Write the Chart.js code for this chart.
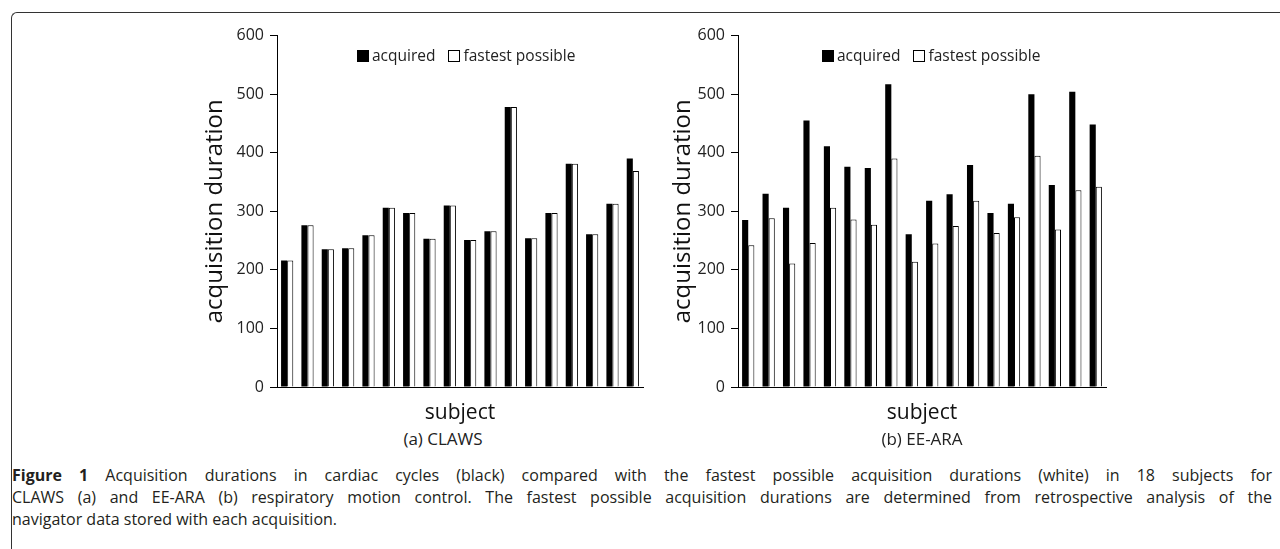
<!DOCTYPE html>
<html>
<head>
<meta charset="utf-8">
<script src="https://cdn.jsdelivr.net/npm/chart.js@4"></script>
<style>
  body { margin: 0; background: #fff; width: 1280px; height: 549px; overflow: hidden; position: relative; font-family: "Open Sans", sans-serif; color: #222; }
  .frame { position: absolute; left: 11px; top: 12px; width: 1300px; height: 600px; border-top: 1.5px solid #333; border-left: 1.5px solid #333; border-top-left-radius: 6px; }
  .wrap { position: absolute; }
  .legend { position: absolute; font-size: 15.5px; line-height: 15px; white-space: nowrap; }
  .legend span.box { display: inline-block; width: 10px; height: 10px; border: 1px solid #000; vertical-align: -1px; margin-right: 3px; }
  .legend span.gap { display: inline-block; width: 13px; }
  .sub { position: absolute; font-size: 17px; text-align: center; width: 300px; }
  .caption { position: absolute; left: 12px; top: 464px; width: 1260px; font-size: 16px; line-height: 22px; color: #231f20; }
  .caption div { text-align: justify; text-align-last: justify; white-space: nowrap; }
  .caption div.last { text-align-last: left; }
</style>
</head>
<body>
<div class="frame"></div>

<div class="wrap" style="left:190px; top:20px; width:470px; height:407px;"><canvas id="chartA"></canvas></div>
<div class="wrap" style="left:658px; top:20px; width:465px; height:407px;"><canvas id="chartB"></canvas></div>

<div class="legend" id="legendA" style="left:357px; top:48px;"></div>
<div class="legend" id="legendB" style="left:822px; top:48px;"></div>

<div class="sub" style="left:293px; top:427px;">(a) CLAWS</div>
<div class="sub" style="left:772px; top:427px;">(b) EE-ARA</div>

<div class="caption">
  <div><b>Figure 1</b> Acquisition durations in cardiac cycles (black) compared with the fastest possible acquisition durations (white) in 18 subjects for</div>
  <div>CLAWS (a) and EE-ARA (b) respiratory motion control. The fastest possible acquisition durations are determined from retrospective analysis of the</div>
  <div class="last">navigator data stored with each acquisition.</div>
</div>

<script>
// 18 subjects, no tick labels on the x axis
const subjects = ['1','2','3','4','5','6','7','8','9','10','11','12','13','14','15','16','17','18'];
const yTicks = [0, 100, 200, 300, 400, 500, 600];
const seriesNames = ['acquired', 'fastest possible'];

// (a) CLAWS
const clawsAcquired = [216, 276, 235, 237, 259, 306, 297, 253, 310, 251, 266, 478, 254, 297, 381, 261, 313, 390];
const clawsFastest  = [216, 276, 235, 237, 259, 306, 297, 253, 310, 251, 266, 478, 254, 297, 381, 261, 313, 369];

// (b) EE-ARA
const eeAcquired = [285, 330, 306, 455, 411, 376, 374, 517, 261, 318, 329, 379, 297, 313, 500, 345, 504, 448];
const eeFastest  = [242, 288, 211, 246, 306, 286, 277, 390, 214, 245, 275, 318, 263, 290, 395, 269, 336, 342];

const tickFont = { family: 'Open Sans', size: 16 };

function makeLegend(id) {
    var el = document.getElementById(id);
    el.innerHTML = '<span class="box" style="background:#000"></span>' + seriesNames[0] +
        '<span class="gap"></span><span class="box" style="background:#fff"></span>' + seriesNames[1];
}

function makeChart(id, acquired, fastest, yWidth) {
    const ctx = document.getElementById(id);
    new Chart(ctx, {
        type: 'bar',
        data: {
            labels: subjects,
            datasets: [{
                label: seriesNames[0],
                data: acquired,
                backgroundColor: '#000',
                borderWidth: 0,
                categoryPercentage: 0.6,
                barPercentage: 1.0
            }, {
                label: seriesNames[1],
                data: fastest,
                backgroundColor: '#fff',
                borderColor: '#000',
                borderWidth: 1,
                categoryPercentage: 0.6,
                barPercentage: 1.0
            }]
        },
        options: {
            responsive: true,
            maintainAspectRatio: false,
            animation: false,
            layout: { padding: { top: 15.5, right: 17, bottom: 0, left: 0 } },
            plugins: { legend: { display: false }, tooltip: { enabled: false } },
            scales: {
                x: {
                    grid: { display: false },
                    border: { display: true, color: '#000', width: 1 },
                    ticks: { display: false },
                    title: { display: true, text: 'subject', color: '#111', font: { family: 'Open Sans', size: 21 }, padding: { top: 0, bottom: 1 } },
                    afterFit: function (scale) { scale.height = 40; }
                },
                y: {
                    min: 0,
                    max: 600,
                    afterBuildTicks: function (scale) { scale.ticks = yTicks.map(v => ({ value: v })); },
                    grid: { drawOnChartArea: false, drawTicks: true, tickLength: 7, color: '#000' },
                    border: { display: true, color: '#000', width: 1 },
                    ticks: { color: '#222', font: tickFont, padding: 6 },
                    title: { display: true, text: 'acquisition duration', color: '#111', font: { family: 'Open Sans', size: 24 }, padding: { top: 11, bottom: 0 } },
                    afterFit: function (scale) { scale.width = yWidth; }
                }
            }
        }
    });
}

makeLegend('legendA');
makeLegend('legendB');
makeChart('chartA', clawsAcquired, clawsFastest, 87);
makeChart('chartB', eeAcquired, eeFastest, 80);
</script>
</body>
</html>
